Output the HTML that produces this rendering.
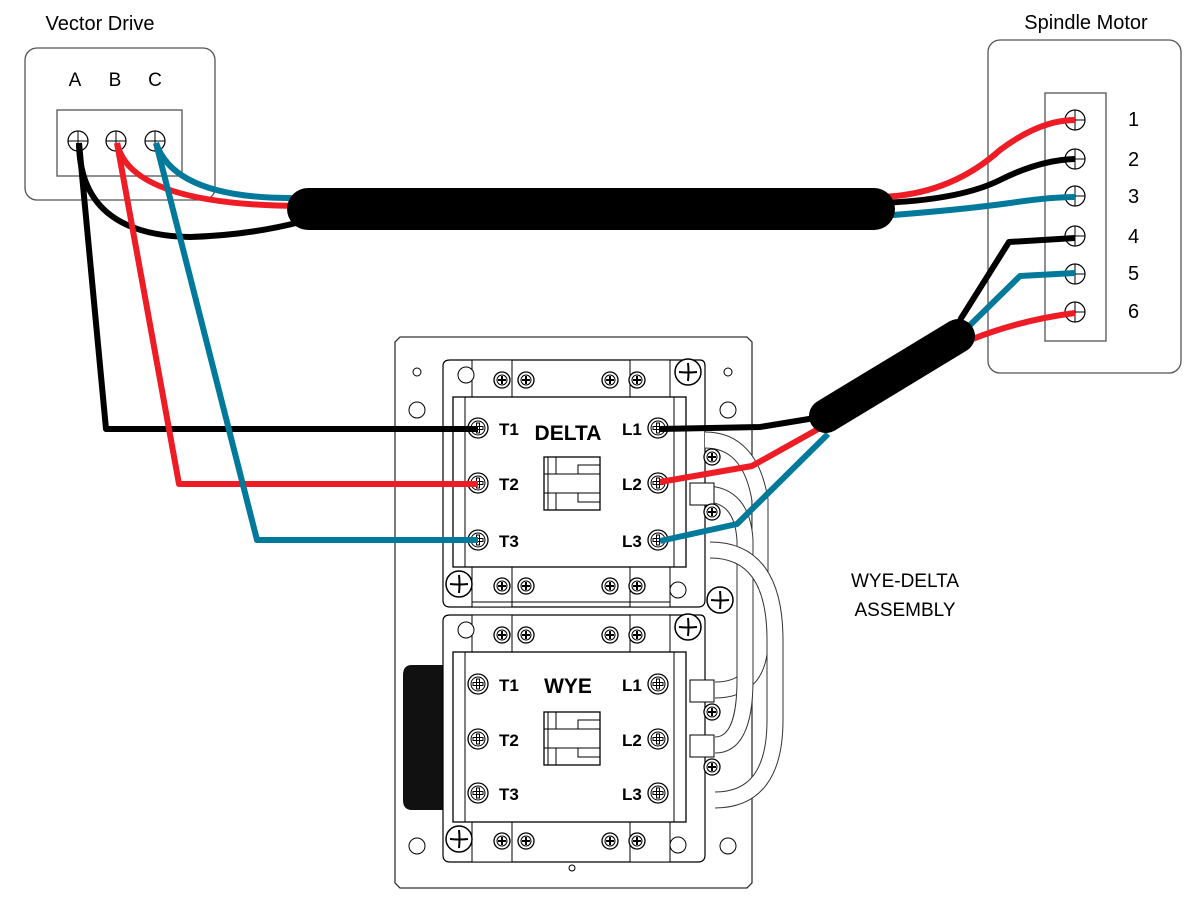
<!DOCTYPE html>
<html><head><meta charset="utf-8"><style>
html,body{margin:0;padding:0;background:#fff;}
svg{display:block;font-family:"Liberation Sans",sans-serif;}
</style></head><body>
<svg width="1200" height="900" viewBox="0 0 1200 900" xmlns="http://www.w3.org/2000/svg">
<defs>
<g id="scr"><circle r="10" fill="#fff" stroke="#000" stroke-width="1.2"/><path d="M-10 0H10M0 -10V10" stroke="#000" stroke-width="1"/></g>
<g id="bs"><circle r="10" fill="#fff" stroke="#000" stroke-width="1.3"/><circle r="7" fill="none" stroke="#000" stroke-width="1"/><path d="M-5 -1.5H5V1.5H-5ZM-1.5 -5H1.5V5H-1.5Z" fill="#fff" stroke="#000" stroke-width="1"/></g>
<g id="ss"><circle r="8" fill="#fff" stroke="#000" stroke-width="1.3"/><circle r="5" fill="none" stroke="#000"/><path d="M-4 0H4M0 -4V4" stroke="#000" stroke-width="2"/></g>
<g id="ms"><circle r="13" fill="#fff" stroke="#000" stroke-width="1.5"/><path d="M-9 0Q0 1 9 0M0 -9Q1 0 0 9" stroke="#000" stroke-width="2" fill="none"/></g>
</defs>

<!-- Vector drive -->
<text x="100" y="30" font-size="20" text-anchor="middle">Vector Drive</text>
<rect x="25" y="48" width="190" height="152" rx="12" fill="#fff" stroke="#555" stroke-width="1.3"/>
<text x="75" y="86" font-size="19" text-anchor="middle">A</text>
<text x="115" y="86" font-size="19" text-anchor="middle">B</text>
<text x="155" y="86" font-size="19" text-anchor="middle">C</text>
<rect x="57" y="110" width="125" height="66" fill="#fff" stroke="#555" stroke-width="1.3"/>
<use href="#scr" x="78" y="141"/><use href="#scr" x="116" y="141"/><use href="#scr" x="155" y="141"/>

<!-- Spindle motor -->
<text x="1086" y="29" font-size="20" text-anchor="middle">Spindle Motor</text>
<rect x="988" y="40" width="193" height="333" rx="12" fill="#fff" stroke="#555" stroke-width="1.3"/>
<rect x="1045" y="93" width="61" height="248" fill="#fff" stroke="#555" stroke-width="1.3"/>
<g font-size="20">
<text x="1128" y="126">1</text><text x="1128" y="166">2</text><text x="1128" y="203">3</text>
<text x="1128" y="243">4</text><text x="1128" y="280">5</text><text x="1128" y="318">6</text>
</g>
<use href="#scr" x="1075" y="120"/><use href="#scr" x="1075" y="159"/><use href="#scr" x="1075" y="196"/>
<use href="#scr" x="1075" y="236"/><use href="#scr" x="1075" y="274"/><use href="#scr" x="1075" y="312"/>

<!-- Plate -->
<path d="M400 337H747L752 342V883L747 888H400L395 883V342Z" fill="#fff" stroke="#333" stroke-width="1.3"/>
<circle cx="417" cy="372" r="4" fill="none" stroke="#000"/><circle cx="728" cy="372" r="4" fill="none" stroke="#000"/>
<circle cx="417" cy="410" r="8" fill="none" stroke="#000"/><circle cx="728" cy="410" r="8" fill="none" stroke="#000"/>
<circle cx="417" cy="846" r="8" fill="none" stroke="#000"/><circle cx="728" cy="846" r="8" fill="none" stroke="#000"/>
<circle cx="572" cy="868" r="3" fill="none" stroke="#000"/>

<!-- coil -->
<path d="M412 665H450V810H412Q403 810 403 800V675Q403 665 412 665Z" fill="#111"/>

<!-- contactors -->
<g id="cont">
<path d="M450 360H700Q705 360 705 366V600Q705 607 698 607H450Q443 607 443 600V366Q443 360 450 360Z" fill="#fff" stroke="#000" stroke-width="1.2"/>
<rect x="472" y="360" width="40" height="37" fill="#fff" stroke="#000"/><rect x="630" y="360" width="40" height="37" fill="#fff" stroke="#000"/>
<rect x="472" y="567" width="40" height="40" fill="#fff" stroke="#000"/><rect x="630" y="567" width="40" height="40" fill="#fff" stroke="#000"/>
<rect x="453" y="397" width="233" height="170" fill="#fff" stroke="#000" stroke-width="1.3"/>
<line x1="465" y1="397" x2="465" y2="567" stroke="#000"/><line x1="674" y1="397" x2="674" y2="567" stroke="#000"/>
<rect x="544" y="457" width="56" height="53" fill="#fff" stroke="#000" stroke-width="1.3"/>
<path d="M548 457V510M544 474H600M544 493H600M556 457V474H578V465H600M556 510V493H578V502H600" fill="none" stroke="#000"/>
<circle cx="466" cy="375" r="8" fill="#fff" stroke="#000"/><circle cx="678" cy="590" r="8" fill="#fff" stroke="#000"/>
<use href="#ss" x="502" y="380"/><use href="#ss" x="526" y="380"/><use href="#ss" x="610" y="380"/><use href="#ss" x="637" y="380"/>
<use href="#ss" x="502" y="586"/><use href="#ss" x="526" y="586"/><use href="#ss" x="610" y="586"/><use href="#ss" x="637" y="586"/>
<use href="#ms" x="688" y="372"/><use href="#ms" x="459" y="584"/>
</g>
<use href="#cont" y="255"/>
<line x1="472" y1="602" x2="670" y2="602" stroke="#000"/>

<!-- white jumper loops -->
<g fill="none" stroke-linecap="butt">
<path d="M705 440Q750 440 760 500V640Q760 690 715 690" stroke="#333" stroke-width="17"/>
<path d="M705 440Q750 440 760 500V640Q760 690 715 690" stroke="#fff" stroke-width="15"/>
<path d="M705 494Q742 494 745 540V680Q745 745 715 745" stroke="#333" stroke-width="17"/>
<path d="M705 494Q742 494 745 540V680Q745 745 715 745" stroke="#fff" stroke-width="15"/>
<path d="M710 550Q775 550 775 640V720Q775 800 715 800" stroke="#333" stroke-width="17"/>
<path d="M710 550Q775 550 775 640V720Q775 800 715 800" stroke="#fff" stroke-width="15"/>
</g>
<rect x="690" y="483" width="24" height="22" fill="#fff" stroke="#000"/>
<rect x="690" y="680" width="24" height="22" fill="#fff" stroke="#000"/>
<rect x="690" y="735" width="24" height="22" fill="#fff" stroke="#000"/>
<use href="#ss" x="712" y="457"/><use href="#ss" x="712" y="512"/><use href="#ss" x="712" y="712"/><use href="#ss" x="712" y="767"/>
<use href="#ms" x="720" y="600"/>

<!-- terminal screws -->
<g>
<use href="#bs" x="478" y="428"/><use href="#bs" x="478" y="483"/><use href="#bs" x="478" y="540"/>
<use href="#bs" x="658" y="428"/><use href="#bs" x="658" y="483"/><use href="#bs" x="658" y="540"/>
<use href="#bs" x="478" y="684"/><use href="#bs" x="478" y="739"/><use href="#bs" x="478" y="793"/>
<use href="#bs" x="658" y="684"/><use href="#bs" x="658" y="739"/><use href="#bs" x="658" y="793"/>
</g>
<g font-size="17" font-weight="bold">
<text x="499" y="435">T1</text><text x="499" y="490">T2</text><text x="499" y="547">T3</text>
<text x="622" y="435">L1</text><text x="622" y="490">L2</text><text x="622" y="547">L3</text>
<text x="499" y="691">T1</text><text x="499" y="746">T2</text><text x="499" y="800">T3</text>
<text x="622" y="691">L1</text><text x="622" y="746">L2</text><text x="622" y="800">L3</text>
</g>
<text x="568" y="440" font-size="21" font-weight="bold" text-anchor="middle">DELTA</text>
<text x="568" y="693" font-size="21" font-weight="bold" text-anchor="middle">WYE</text>

<!-- wires -->
<g fill="none" stroke-width="6" stroke-linejoin="round">
<path d="M156 143Q175 200 300 198" stroke="#00799b"/>
<path d="M117 143Q130 205 300 206" stroke="#ee1d25"/>
<path d="M79 143Q80 235 190 237Q250 235 300 222" stroke="#000"/>
<path d="M79 143L106 429H478" stroke="#000"/>
<path d="M117 143L179 484H478" stroke="#ee1d25"/>
<path d="M156 143L257 540H478" stroke="#00799b"/>
<path d="M880 197Q950 195 1000 150Q1040 120 1075 120" stroke="#ee1d25"/>
<path d="M880 203Q960 200 1000 180Q1040 160 1075 159" stroke="#000"/>
<path d="M880 216Q960 210 1010 203Q1050 197 1075 197" stroke="#00799b"/>
<path d="M960 320L1009 242L1075 238" stroke="#000"/>
<path d="M965 330L1020 276L1075 273" stroke="#00799b"/>
<path d="M970 340Q1020 320 1075 313" stroke="#ee1d25"/>
<path d="M815 418L760 427L660 429" stroke="#000"/>
<path d="M820 428L752 466L660 482" stroke="#ee1d25"/>
<path d="M828 434L737 524L660 541" stroke="#00799b"/>
</g>
<!-- cables -->
<line x1="308" y1="209" x2="874" y2="209" stroke="#000" stroke-width="42" stroke-linecap="round"/>
<line x1="826" y1="416" x2="958" y2="336" stroke="#000" stroke-width="34" stroke-linecap="round"/>

<text x="905" y="587" font-size="19" text-anchor="middle">WYE-DELTA</text>
<text x="905" y="616" font-size="19" text-anchor="middle">ASSEMBLY</text>
</svg>
</body></html>
